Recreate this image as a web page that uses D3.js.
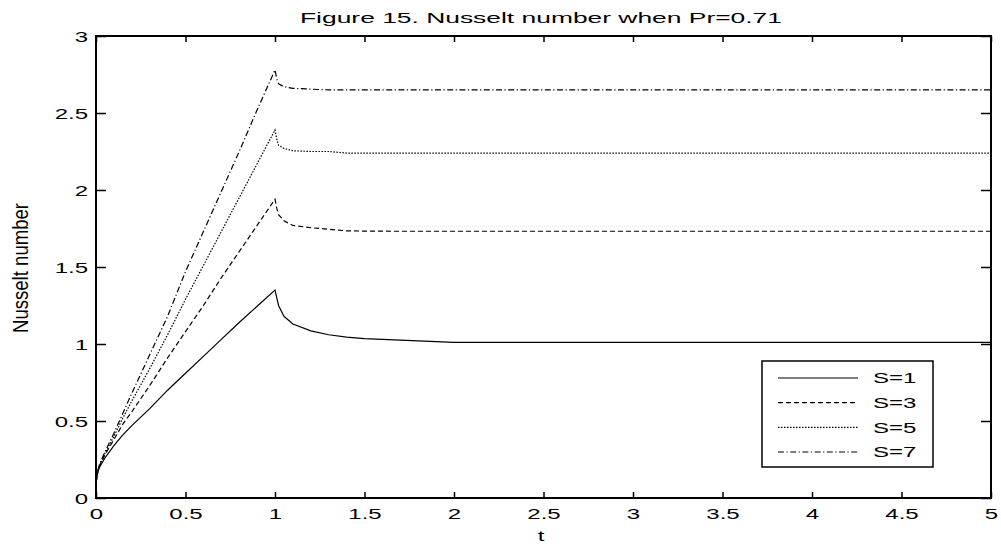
<!DOCTYPE html>
<html><head><meta charset="utf-8">
<script src="https://cdn.jsdelivr.net/npm/d3@7"></script>
<style>html,body{margin:0;padding:0;background:#fff;}svg{display:block;}</style>
</head><body>
<svg id="c" width="1001" height="546"></svg>
<script>
const titleText = "Figure 15. Nusselt number when Pr=0.71";
const xLabel = "t";
const yLabel = "Nusselt number";
const xTicks = [0,0.5,1,1.5,2,2.5,3,3.5,4,4.5,5];
const yTicks = [0,0.5,1,1.5,2,2.5,3];
const seriesNames = ["S=1","S=3","S=5","S=7"];
const tValues = [0,0.01,0.02,0.05,0.1,0.15,0.2,0.3,0.4,0.5,0.6,0.7,0.8,0.9,1.0,1.01,1.02,1.05,1.1,1.2,1.3,1.4,1.5,1.7,2.0,2.5,3.0,3.5,4.0,4.5,5.0];
const s1 = [0.10,0.17,0.20,0.26,0.34,0.41,0.47,0.58,0.70,0.81,0.92,1.03,1.14,1.245,1.35,1.30,1.25,1.18,1.13,1.085,1.06,1.045,1.035,1.025,1.01,1.01,1.01,1.01,1.01,1.01,1.01];
const s3 = [0.10,0.17,0.21,0.28,0.38,0.48,0.56,0.73,0.91,1.08,1.25,1.43,1.60,1.77,1.94,1.88,1.84,1.80,1.77,1.755,1.745,1.735,1.733,1.732,1.732,1.732,1.732,1.732,1.732,1.732,1.732];
const s5 = [0.10,0.17,0.21,0.29,0.40,0.52,0.63,0.84,1.06,1.29,1.51,1.73,1.95,2.17,2.39,2.33,2.29,2.27,2.255,2.25,2.25,2.24,2.24,2.24,2.24,2.24,2.24,2.24,2.24,2.24,2.24];
const s7 = [0.10,0.18,0.22,0.30,0.42,0.55,0.68,0.93,1.18,1.47,1.73,1.99,2.25,2.52,2.78,2.72,2.69,2.67,2.66,2.655,2.65,2.65,2.65,2.65,2.65,2.65,2.65,2.65,2.65,2.65,2.65];
const seriesValues = [s1,s3,s5,s7];
const dashes = [null,"5,3","1.5,1.5","6,2.5,1.2,2.5"];

const L=96,R=991,T=36,B=498;
const svg = d3.select("#c");
const font = "'Liberation Sans', Arial, sans-serif";
const x = d3.scaleLinear().domain([0,5]).range([L,R]);
const y = d3.scaleLinear().domain([0,3]).range([B,T]);
const SX = 1.6;

// frame
svg.append("rect").attr("x",L).attr("y",T).attr("width",R-L).attr("height",B-T)
  .attr("fill","none").attr("stroke","#000").attr("stroke-width",2);

function styleAxis(g){ g.select(".domain").remove(); g.selectAll(".tick line").attr("stroke","#000").attr("stroke-width",1.5); }

const gx = svg.append("g").attr("transform",`translate(0,${B})`)
  .call(d3.axisBottom(x).tickValues(xTicks).tickSizeInner(-6).tickSizeOuter(0).tickFormat(d3.format("")));
styleAxis(gx);
gx.selectAll(".tick text").attr("y",null).attr("dy",null)
  .attr("transform",`translate(0,21) scale(${SX},1)`)
  .attr("font-family",font).attr("font-size",15).attr("fill","#000").attr("text-anchor","middle");

const gy = svg.append("g").attr("transform",`translate(${L},0)`)
  .call(d3.axisLeft(y).tickValues(yTicks).tickSizeInner(-10).tickSizeOuter(0).tickFormat(d3.format("")));
styleAxis(gy);
gy.selectAll(".tick text").attr("x",null).attr("dy","0.35em")
  .attr("transform",`translate(-8,0) scale(${SX},1)`)
  .attr("font-family",font).attr("font-size",15).attr("fill","#000").attr("text-anchor","end");

const gt = svg.append("g").attr("transform",`translate(0,${T})`)
  .call(d3.axisTop(x).tickValues(xTicks).tickSizeInner(-6).tickSizeOuter(0).tickFormat(""));
styleAxis(gt);
const gr = svg.append("g").attr("transform",`translate(${R},0)`)
  .call(d3.axisRight(y).tickValues(yTicks).tickSizeInner(-10).tickSizeOuter(0).tickFormat(""));
styleAxis(gr);

// lines
const line = d3.line().x((d,i)=>x(tValues[i])).y(d=>y(d));
seriesValues.forEach((vals,k)=>{
  svg.append("path").attr("d",line(vals)).attr("fill","none").attr("stroke","#000")
    .attr("stroke-width",1.2).attr("stroke-dasharray",dashes[k]);
});

// title & labels
svg.append("text").attr("x",541).attr("y",22.5).attr("text-anchor","middle")
  .attr("font-family",font).attr("font-size",15).attr("textLength",482).attr("lengthAdjust","spacingAndGlyphs")
  .text(titleText);
svg.append("text").attr("transform",`translate(541,541) scale(${SX},1)`).attr("text-anchor","middle")
  .attr("font-family",font).attr("font-size",15).text(xLabel);
svg.append("text").attr("transform",`translate(28,268) scale(${SX},1) rotate(-90)`).attr("text-anchor","middle")
  .attr("font-family",font).attr("font-size",14).attr("textLength",130).attr("lengthAdjust","spacingAndGlyphs")
  .text(yLabel);

// legend
const lg = svg.append("g");
lg.append("rect").attr("x",762).attr("y",361).attr("width",171).attr("height",106)
  .attr("fill","#fff").attr("stroke","#000").attr("stroke-width",1.5);
const rowY = d3.scaleLinear().domain([0,3]).range([378,452]);
seriesNames.forEach((n,k)=>{
  const yy = rowY(k);
  lg.append("line").attr("x1",778).attr("x2",858).attr("y1",yy).attr("y2",yy)
    .attr("stroke","#000").attr("stroke-width",1.1).attr("stroke-dasharray",dashes[k]);
  lg.append("text").attr("transform",`translate(873,${yy}) scale(${SX},1)`).attr("dy","0.35em")
    .attr("font-family",font).attr("font-size",15).text(n);
});
</script>
</body></html>
